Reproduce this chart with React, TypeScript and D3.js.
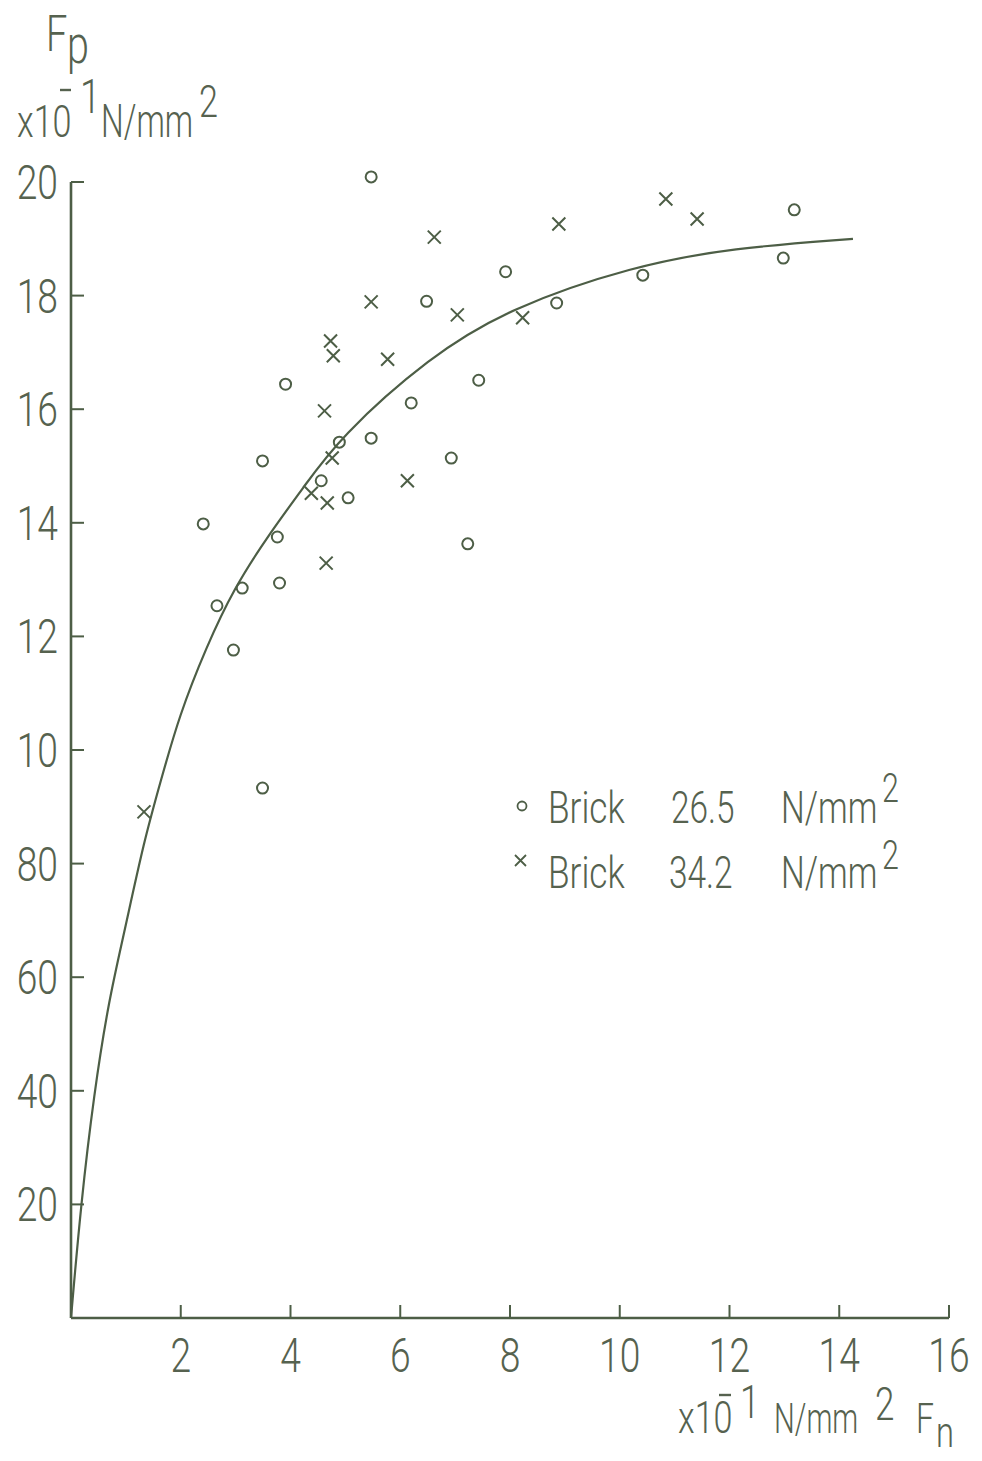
import * as d3 from "d3";

const WIDTH = 982;
const HEIGHT = 1461;
const SX = 0.76; // narrow drafting lettering
const INK = "#56624f";
const LINE = "#4d5e46";
const FONT = "Roboto, 'Liberation Sans', sans-serif";

// Brick 26.5 N/mm2 (circles)
const brick265: [number, number][] = [
    [5.47, 20.09], [13.18, 19.51], [12.98, 18.66], [10.42, 18.36], [7.92, 18.42],
    [8.85, 17.87], [6.48, 17.9], [7.43, 16.51], [3.91, 16.44], [6.2, 16.11],
    [3.49, 15.09], [4.89, 15.42], [5.47, 15.49], [6.93, 15.14], [4.56, 14.74],
    [5.05, 14.44], [2.41, 13.98], [3.76, 13.75], [7.23, 13.63], [3.12, 12.85],
    [3.8, 12.94], [2.66, 12.54], [2.96, 11.76], [3.49, 9.33],
];

// Brick 34.2 N/mm2 (crosses)
const brick342: [number, number][] = [
    [6.62, 19.03], [8.89, 19.26], [10.84, 19.7], [11.41, 19.35], [5.47, 17.89],
    [7.04, 17.66], [8.23, 17.61], [4.73, 17.2], [4.78, 16.94], [5.77, 16.88],
    [4.62, 15.97], [4.76, 15.14], [6.13, 14.74], [4.38, 14.52], [4.67, 14.35],
    [4.65, 13.29], [1.33, 8.91],
];

// hand drawn fitted curve
const fitCurve: [number, number][] = [
    [0, 0], [0.18, 2.0], [0.42, 3.96], [0.69, 5.6], [0.97, 6.78], [1.33, 8.4],
    [1.64, 9.47], [1.97, 10.6], [2.46, 11.8], [2.97, 12.85], [3.61, 13.8],
    [4.22, 14.6], [4.89, 15.5], [6.53, 16.92], [7.99, 17.78], [10.24, 18.52],
    [12.06, 18.84], [14.25, 19.0],
];

const xTicks = [2, 4, 6, 8, 10, 12, 14, 16];
const xTickLabels = ["2", "4", "6", "8", "10", "12", "14", "16"];
const yTicks = [20, 18, 16, 14, 12, 10, 8, 6, 4, 2];
const yTickLabels = ["20", "18", "16", "14", "12", "10", "80", "60", "40", "20"];

const Txt = ({ x, y, size, anchor = "start", sx = SX, children }: any) => (
    <text
        transform={`translate(${x},${y}) scale(${sx},1)`}
        fontSize={size}
        textAnchor={anchor}
        fontFamily={FONT}
        fontWeight={300}
        fill={INK}
    >
        {children}
    </text>
);

export default function App() {
    const xScale = d3.scaleLinear().domain([0, 16]).range([71, 949]);
    const yScale = d3.scaleLinear().domain([0, 20]).range([1318, 182]);

    const line = d3
        .line<[number, number]>()
        .x((d) => xScale(d[0]))
        .y((d) => yScale(d[1]))
        .curve(d3.curveBasis);

    const x0 = xScale(0);
    const y0 = yScale(0);

    return (
        <svg
            width={WIDTH}
            height={HEIGHT}
            style={{ position: "absolute", left: 0, top: 0, background: "#fff" }}
        >
            {/* axes */}
            <g stroke={LINE} strokeWidth={2.6} fill="none">
                <line x1={x0} y1={yScale(20)} x2={x0} y2={y0} />
                <line x1={x0} y1={y0} x2={xScale(16)} y2={y0} />
                {yTicks.map((t) => (
                    <line key={"yt" + t} x1={x0} x2={x0 + 13} y1={yScale(t)} y2={yScale(t)} strokeWidth={2} />
                ))}
                {xTicks.map((t) => (
                    <line key={"xt" + t} x1={xScale(t)} x2={xScale(t)} y1={y0} y2={y0 - 13} strokeWidth={2} />
                ))}
            </g>
            {yTicks.map((t, i) => (
                <Txt key={"yl" + i} x={58} y={yScale(t) + 17} size={49} anchor="end">
                    {yTickLabels[i]}
                </Txt>
            ))}
            {xTicks.map((t, i) => (
                <Txt key={"xl" + i} x={xScale(t)} y={1372} size={49} anchor="middle">
                    {xTickLabels[i]}
                </Txt>
            ))}

            {/* y axis title */}
            <Txt x={46} y={51} size={50}>F</Txt>
            <Txt x={67} y={63} size={52}>p</Txt>
            <Txt x={17} y={137} size={45}>x10</Txt>
            <line x1={60} x2={71} y1={90} y2={90} stroke={INK} strokeWidth={2.4} />
            <Txt x={80} y={113} size={49}>1</Txt>
            <Txt x={101} y={137} size={47} sx={0.68}>N/mm</Txt>
            <Txt x={199} y={117} size={45}>2</Txt>

            {/* x axis title */}
            <Txt x={678} y={1433} size={45}>x10</Txt>
            <line x1={719} x2={731} y1={1395} y2={1395} stroke={INK} strokeWidth={2.4} />
            <Txt x={740} y={1418} size={47}>1</Txt>
            <Txt x={774} y={1433} size={43} sx={0.68}>N/mm</Txt>
            <Txt x={875} y={1420} size={46}>2</Txt>
            <Txt x={916} y={1433} size={42}>F</Txt>
            <Txt x={936} y={1447} size={43}>n</Txt>

            {/* fitted curve */}
            <path d={line(fitCurve) || ""} fill="none" stroke={LINE} strokeWidth={2.2} />

            {/* data */}
            <g fill="none" stroke={LINE} strokeWidth={2}>
                {brick265.map((d, i) => (
                    <circle key={"c" + i} cx={xScale(d[0])} cy={yScale(d[1])} r={5.5} />
                ))}
                {brick342.map((d, i) => {
                    const cx = xScale(d[0]);
                    const cy = yScale(d[1]);
                    const s = 6.5;
                    return (
                        <path
                            key={"x" + i}
                            d={`M${cx - s},${cy - s}L${cx + s},${cy + s}M${cx - s},${cy + s}L${cx + s},${cy - s}`}
                        />
                    );
                })}
            </g>

            {/* legend */}
            <g fill="none" stroke={LINE} strokeWidth={1.8}>
                <circle cx={522} cy={806} r={4.5} />
                <path d="M515,855L526,866M515,866L526,855" />
            </g>
            <Txt x={548} y={823} size={44} sx={0.8}>Brick</Txt>
            <Txt x={671} y={823} size={44}>26.5</Txt>
            <Txt x={781} y={823} size={44}>N/mm</Txt>
            <Txt x={882} y={802} size={40}>2</Txt>
            <Txt x={548} y={888} size={44} sx={0.8}>Brick</Txt>
            <Txt x={669} y={888} size={44}>34.2</Txt>
            <Txt x={781} y={888} size={44}>N/mm</Txt>
            <Txt x={882} y={869} size={40}>2</Txt>
        </svg>
    );
}
